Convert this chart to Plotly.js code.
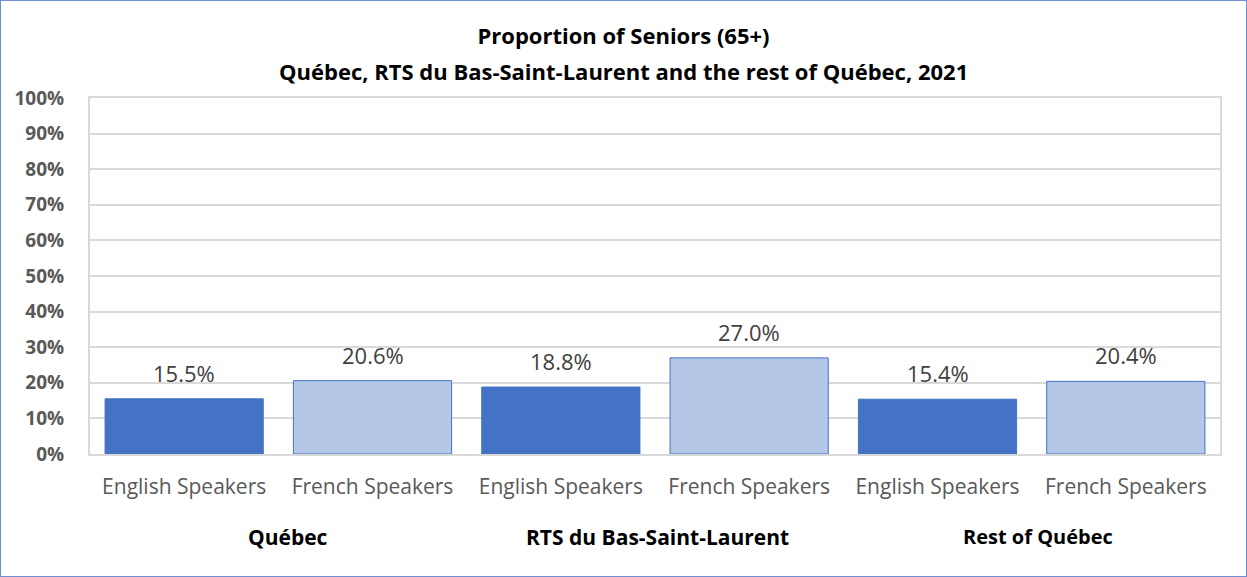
<!DOCTYPE html>
<html>
<head>
<meta charset="utf-8">
<script src="https://cdn.plot.ly/plotly-3.0.1.min.js"></script>
<style>
html,body{margin:0;padding:0;background:#fff;}
#frame{box-sizing:border-box;width:1247px;height:577px;border:1px solid #6F8FD0;}
#chart{width:1245px;height:575px;}
</style>
</head>
<body>
<div id="frame"><div id="chart"></div></div>
<script>
const barLabels = ["English Speakers","French Speakers","English Speakers","French Speakers","English Speakers","French Speakers"];
const groups = ["Québec","RTS du Bas-Saint-Laurent","Rest of Québec"];
const values = [15.5, 20.6, 18.8, 27.0, 15.4, 20.4];
const barColors = ["#4472C4","#B4C7E7","#4472C4","#B4C7E7","#4472C4","#B4C7E7"];
const yTickVals = [0,10,20,30,40,50,60,70,80,90,100];
const yTickText = yTickVals.map(v => v + "%");
const titleLines = ["Proportion of Seniors (65+)","Québec, RTS du Bas-Saint-Laurent and the rest of Québec, 2021"];

const xIdx = values.map((_, i) => i);
const FONT = "Open Sans, Noto Sans, sans-serif";

const trace = {
  type: "bar",
  x: xIdx,
  y: values,
  width: 0.84,
  marker: {color: barColors, line: {color: "#4472C4", width: 1}},
  hoverinfo: "skip"
};

const groupShift = [10, 2, 6];
const groupSize = [21, 21, 20];
const annotations = groups.map((g, k) => ({
  text: "<b>" + g + "</b>",
  x: 2*k + 0.5,
  xref: "x",
  xshift: groupShift[k],
  y: -0.232,
  yref: "paper",
  showarrow: false,
  xanchor: "center",
  yanchor: "middle",
  font: {family: FONT, size: groupSize[k], color: "#000"}
}));

values.forEach((v, i) => {
  annotations.push({
    text: v.toFixed(1) + "%",
    x: i, xref: "x",
    y: v, yref: "y",
    yshift: 26,
    showarrow: false,
    xanchor: "center",
    yanchor: "middle",
    font: {family: FONT, size: 22, color: "#404040"}
  });
});

annotations.push({
  text: "<b>" + titleLines[1] + "</b>",
  x: 0.472, xref: "paper",
  y: 1.075, yref: "paper",
  showarrow: false,
  xanchor: "center",
  yanchor: "middle",
  font: {family: FONT, size: 22, color: "#000"}
});

const layout = {
  width: 1245,
  height: 575,
  margin: {l: 89, r: 26, t: 97, b: 122},
  paper_bgcolor: "#fff",
  plot_bgcolor: "#fff",
  showlegend: false,
  title: {
    text: "<b>" + titleLines[0] + "</b>",
    xref: "container", x: 0.5, xanchor: "center",
    yref: "container", y: 0.938, yanchor: "middle",
    font: {family: FONT, size: 22, color: "#000"}
  },
  xaxis: {
    range: [-0.5, 5.5],
    tickvals: xIdx,
    ticktext: barLabels,
    showgrid: false,
    zeroline: false,
    showline: true, mirror: true,
    linecolor: "#D9D9D9", linewidth: 2,
    ticks: "",
    ticklabelstandoff: 13,
    tickfont: {family: FONT, size: 21, color: "#595959"},
    fixedrange: true
  },
  yaxis: {
    range: [0, 100],
    tickvals: yTickVals,
    ticktext: yTickText.map(t => "<b>" + t + "</b>"),
    showgrid: true,
    gridcolor: "#D9D9D9", gridwidth: 2,
    zeroline: false,
    showline: true, mirror: true,
    linecolor: "#D9D9D9", linewidth: 2,
    ticks: "",
    ticklabelstandoff: 20,
    tickfont: {family: FONT, size: 19, color: "#595959"},
    fixedrange: true
  },
  annotations: annotations
};

Plotly.newPlot("chart", [trace], layout, {displayModeBar: false, staticPlot: true});
</script>
</body>
</html>
